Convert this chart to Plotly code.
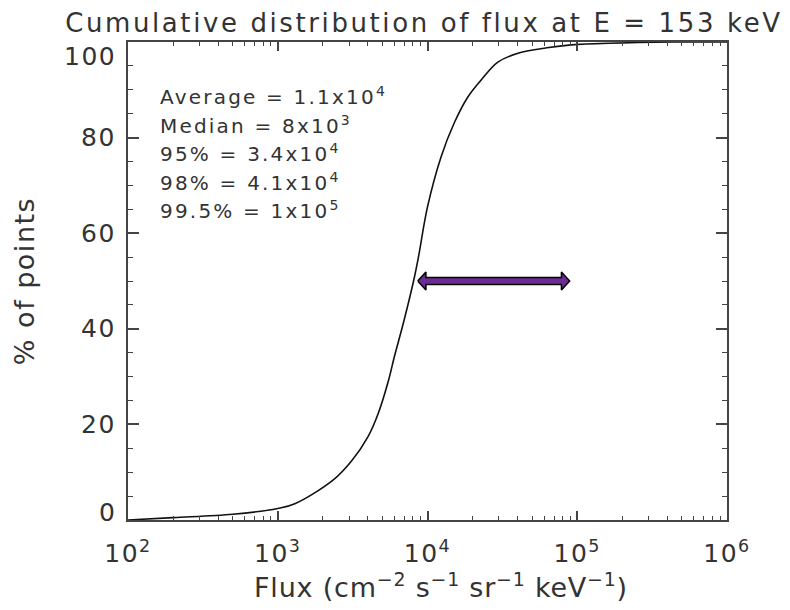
import numpy as np
import plotly.graph_objects as go

# Cumulative distribution of flux at 153 keV
flux = [100, 200, 500, 1000, 1300, 2350, 3100, 4000, 4700, 5500, 6000, 6900,
        8100, 8700, 10000, 12300, 15100, 18600, 22900, 29500, 40700, 60300,
        91200, 450000, 1000000]
percent = [0.0, 0.5, 1.2, 2.4, 3.4, 8.4, 12.3, 17.4, 22.4, 29.3, 34.1, 41.2,
           50.2, 55.0, 65.5, 75.9, 83.1, 88.5, 92.1, 95.8, 97.7, 98.7,
           99.4, 100.0, 100.0]

stat_labels = ["Average", "Median", "95%", "98%", "99.5%"]
stat_mantissa = ["1.1", "8", "3.4", "4.1", "1"]
stat_exponent = [4, 3, 4, 4, 5]

x_tick_exponents = [2, 3, 4, 5, 6]
y_tick_values = [0, 20, 40, 60, 80, 100]

# spread marked by the double arrow
arrow_start = 8600
arrow_end = 89000
arrow_level = 50

TEXT = "#333333"
AXIS = "#444444"
FONT = "DejaVu Sans"


def spaced(text, px):
    return f"<span style='letter-spacing:{px}px'>{text}</span>"


fig = go.Figure()

fig.add_trace(go.Scatter(
    x=flux, y=percent, mode="lines",
    line=dict(color="#111111", width=1.6, shape="spline", smoothing=1.0),
    hoverinfo="skip", showlegend=False,
))

# double-headed arrow outline built in log-x space
la, lb = np.log10(arrow_start), np.log10(arrow_end)
head_len = 0.055
shaft_half = 0.75
head_half = 1.9
ax_log = [la, la + head_len, la + head_len, lb - head_len, lb - head_len, lb,
          lb - head_len, lb - head_len, la + head_len, la + head_len, la]
ay_off = [0, head_half, shaft_half, shaft_half, head_half, 0,
          -head_half, -shaft_half, -shaft_half, -head_half, 0]
fig.add_trace(go.Scatter(
    x=[10 ** v for v in ax_log], y=[arrow_level + d for d in ay_off],
    mode="lines", fill="toself", fillcolor="#6b2d93",
    line=dict(color="#000000", width=1.5),
    hoverinfo="skip", showlegend=False,
))

# summary statistics, one line each
stat_top = 0.887     # paper y of the first line
stat_step = 0.0598   # paper spacing between lines
for i, (lab, m, e) in enumerate(zip(stat_labels, stat_mantissa, stat_exponent)):
    fig.add_annotation(
        text=spaced(f"{lab} = {m}x10<sup>{e}</sup>", 2.2),
        xref="paper", yref="paper", x=0.05, y=stat_top - i * stat_step,
        xanchor="left", yanchor="middle", align="left", showarrow=False,
        font=dict(family=FONT, size=20, color=TEXT),
    )

# y tick labels; the end labels sit inside the frame
y_label_shift = {0: 8, 100: -14}
for v in y_tick_values:
    fig.add_annotation(
        text=spaced(str(v), 1.5), xref="paper", yref="y", x=0, y=v,
        xanchor="right", yanchor="middle", xshift=-10,
        yshift=y_label_shift.get(v, 0), showarrow=False,
        font=dict(family=FONT, size=25, color=TEXT),
    )

# x axis title
fig.add_annotation(
    text=spaced("Flux (cm<sup>\u22122</sup> s<sup>\u22121</sup> "
                "sr<sup>\u22121</sup> keV<sup>\u22121</sup>)", 0.8),
    xref="paper", yref="paper", x=0.5, y=-0.136, xshift=13,
    xanchor="center", yanchor="middle", showarrow=False,
    font=dict(family=FONT, size=27, color=TEXT),
)

axis_common = dict(
    showline=True, linecolor=AXIS, linewidth=2, mirror="ticks",
    ticks="inside", tickcolor=AXIS, tickwidth=1.5,
    showgrid=False, zeroline=False,
)

fig.update_layout(
    width=790, height=610,
    margin=dict(l=128, r=63, t=42, b=90),
    paper_bgcolor="white", plot_bgcolor="white",
    title=dict(
        text=spaced("Cumulative distribution of flux at E = 153 keV", 2.6),
        xref="paper", x=0.494, xanchor="center",
        yref="container", y=0.963, yanchor="middle",
        font=dict(family=FONT, size=26, color=TEXT),
    ),
    xaxis=dict(
        type="log", range=[2, 6],
        tickvals=[10 ** e for e in x_tick_exponents],
        ticktext=[spaced(f"10<sup>{e}</sup>", 1.5) for e in x_tick_exponents],
        tickfont=dict(family=FONT, size=25, color=TEXT),
        ticklabelstandoff=10,
        ticklen=9,
        minor=dict(ticks="inside", ticklen=4, dtick="D1",
                   tickcolor=AXIS, tickwidth=1.2, showgrid=False),
        **axis_common,
    ),
    yaxis=dict(
        range=[0, 100],
        tickvals=y_tick_values,
        showticklabels=False,
        ticklen=11,
        minor=dict(ticks="inside", ticklen=5, dtick=5,
                   tickcolor=AXIS, tickwidth=1.2, showgrid=False),
        title=dict(text=spaced("% of points", 1.5),
                   font=dict(family=FONT, size=27, color=TEXT), standoff=84),
        **axis_common,
    ),
)

fig.write_html("out.html")
